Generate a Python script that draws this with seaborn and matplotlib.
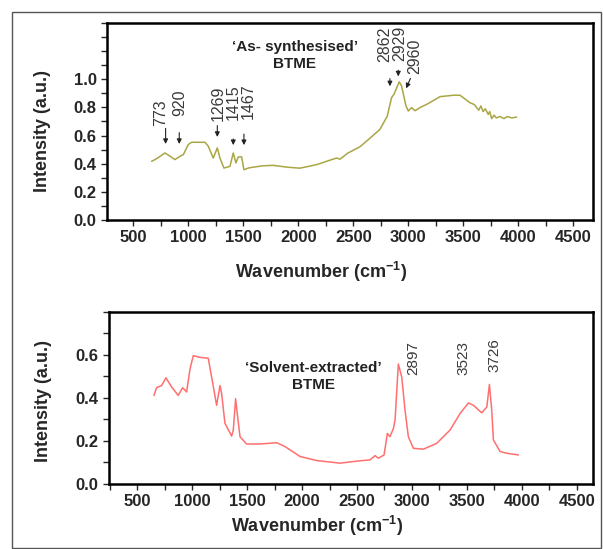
import matplotlib
matplotlib.use("Agg")
import matplotlib.pyplot as plt
import seaborn as sns
from matplotlib.ticker import FixedLocator, MultipleLocator
from matplotlib.patches import Rectangle

# As-synthesised BTME spectrum
wn_as = [667, 700, 740, 788, 830, 879, 900, 924, 955, 1000, 1030, 1090, 1152, 1182, 1227,
         1264, 1288, 1324, 1379, 1409, 1433, 1455, 1485, 1506, 1550, 1591, 1680, 1773, 1900,
         2015, 2167, 2250, 2348, 2379, 2450, 2561, 2650, 2742, 2809, 2848, 2870, 2895, 2918,
         2939, 2979, 3000, 3030, 3061, 3110, 3167, 3288, 3409, 3470, 3561, 3600, 3620, 3640,
         3660, 3680, 3700, 3727, 3740, 3758, 3780, 3800, 3833, 3870, 3900, 3940, 3985]
int_as = [0.417, 0.43, 0.45, 0.476, 0.455, 0.429, 0.44, 0.452, 0.464, 0.536, 0.552, 0.552, 0.552,
          0.524, 0.440, 0.512, 0.44, 0.369, 0.381, 0.476, 0.405, 0.448, 0.448, 0.357, 0.37,
          0.375, 0.385, 0.388, 0.375, 0.368, 0.393, 0.415, 0.44, 0.432, 0.475, 0.52, 0.58,
          0.643, 0.738, 0.869, 0.893, 0.94, 0.981, 0.952, 0.810, 0.774, 0.798, 0.776, 0.80,
          0.821, 0.876, 0.886, 0.886, 0.833, 0.82, 0.80, 0.78, 0.81, 0.77, 0.79, 0.75, 0.77,
          0.72, 0.745, 0.725, 0.735, 0.72, 0.735, 0.725, 0.731]

# Solvent-extracted BTME spectrum
wn_se = [652, 676, 722, 761, 813, 873, 913, 949, 980, 1010, 1071, 1146, 1177, 1222, 1253, 1268,
         1298, 1359, 1374, 1395, 1410, 1435, 1495, 1617, 1769, 1845, 1981, 2133, 2345, 2527,
         2618, 2664, 2694, 2746, 2776, 2800, 2831, 2846, 2876, 2907, 2937, 2967, 3013, 3104,
         3225, 3347, 3438, 3514, 3559, 3635, 3681, 3705, 3726, 3741, 3802, 3863, 3969]
int_se = [0.412, 0.448, 0.458, 0.494, 0.451, 0.412, 0.448, 0.428, 0.535, 0.597, 0.589, 0.585,
          0.497, 0.366, 0.458, 0.42, 0.282, 0.223, 0.251, 0.397, 0.328, 0.220, 0.186, 0.186,
          0.192, 0.174, 0.128, 0.109, 0.097, 0.108, 0.112, 0.132, 0.12, 0.135, 0.235, 0.22,
          0.258, 0.297, 0.558, 0.497, 0.343, 0.220, 0.166, 0.162, 0.189, 0.251, 0.328, 0.377,
          0.366, 0.331, 0.358, 0.463, 0.343, 0.205, 0.151, 0.143, 0.135]

# peak labels (top panel has arrows)
peaks_as = ["773", "920", "1269", "1415", "1467", "2862", "2929", "2960"]
peaks_se = ["2897", "3523", "3726"]

sns.set_style("ticks")
plt.rcParams["font.family"] = ["Liberation Sans", "DejaVu Sans"]
plt.rcParams["mathtext.fontset"] = "custom"
plt.rcParams["mathtext.rm"] = "Liberation Sans"
plt.rcParams["mathtext.bf"] = "Liberation Sans:bold"

fig = plt.figure(figsize=(6.03, 5.49), dpi=100)
fig.patches.append(Rectangle((12 / 603, 1 / 549), 589 / 603, 536 / 549, transform=fig.transFigure,
                             fill=False, edgecolor="#555555", lw=1))

ax1 = fig.add_axes([0.1774, 0.5993, 0.806, 0.359])
ax2 = fig.add_axes([0.1808, 0.1184, 0.8027, 0.3133])

sns.lineplot(x=wn_as, y=int_as, ax=ax1, color="#a9a644", lw=1.1, sort=False)
sns.lineplot(x=wn_se, y=int_se, ax=ax2, color="#ff6f6f", lw=1.1, sort=False)

ax1.set_xlim(261, 4679)
ax1.set_ylim(0, 1.4)
ax2.set_xlim(243, 4648)
ax2.set_ylim(0, 0.8)

for ax, yt in [(ax1, [0, 0.2, 0.4, 0.6, 0.8, 1.0]), (ax2, [0, 0.2, 0.4, 0.6])]:
    ax.xaxis.set_major_locator(FixedLocator([500, 1000, 1500, 2000, 2500, 3000, 3500, 4000, 4500]))
    ax.xaxis.set_minor_locator(MultipleLocator(250))
    ax.yaxis.set_major_locator(FixedLocator(yt))
    ax.yaxis.set_minor_locator(MultipleLocator(0.1))
    ax.tick_params(which="both", direction="out", length=4, width=1, labelsize=12)
    for lab in ax.get_xticklabels() + ax.get_yticklabels():
        lab.set_fontweight("bold")
    ax.set_yticklabels([f"{v:.1f}" for v in yt], fontweight="bold")
    for s in ax.spines.values():
        s.set_visible(True)
        s.set_linewidth(1.8)
        s.set_color("black")
    ax.set_ylabel("Intensity (a.u.)", fontsize=13, fontweight="bold")
    ax.set_xlabel(r"Wavenumber (cm$^{\mathbf{-1}}$)", fontsize=13, fontweight="bold")

ax1.yaxis.set_label_coords(-0.115, 0.45)
ax2.yaxis.set_label_coords(-0.118, 0.48)
ax1.xaxis.set_label_coords(0.44, -0.205)
ax2.xaxis.set_label_coords(0.43, -0.175)

# top panel annotations: (text x, text bottom y, arrow start, arrow end)
ann_as = [
    (752, 0.67, (794, 0.67), (794, 0.52)),
    (924, 0.74, (918, 0.64), (918, 0.52)),
    (1273, 0.70, (1264, 0.69), (1264, 0.57)),
    (1409, 0.71, (1409, 0.595), (1409, 0.512)),
    (1545, 0.72, (1506, 0.63), (1506, 0.512)),
    (2785, 1.12, (2833, 1.024), (2833, 0.93)),
    (2925, 1.13, (2909, 1.083), (2909, 1.0)),
    (3060, 1.036, (3030, 1.024), (2970, 0.917)),
]
for lab, (tx, ty, a0, a1) in zip(peaks_as, ann_as):
    ax1.text(tx, ty, lab, rotation=90, ha="center", va="bottom", fontsize=11.5, color="#3a3a3a")
    ax1.annotate("", xy=a1, xytext=a0,
                 arrowprops=dict(arrowstyle="-|>", color="#222222", lw=0.8, mutation_scale=7))

ax1.text(1970, 1.17, "\u2018As- synthesised\u2019\nBTME", ha="center", va="center",
         fontsize=11, fontweight="bold", color="#222222", linespacing=1.3)

ann_se = [(3013, 0.505), (3468, 0.505), (3747, 0.52)]
for lab, (tx, ty) in zip(peaks_se, ann_se):
    ax2.text(tx, ty, lab, rotation=90, ha="center", va="bottom", fontsize=11, color="#3a3a3a")

ax2.text(2102, 0.50, "\u2018Solvent-extracted\u2019\nBTME", ha="center", va="center",
         fontsize=11, fontweight="bold", color="#222222", linespacing=1.3)

fig.savefig("out.png", dpi=100)
